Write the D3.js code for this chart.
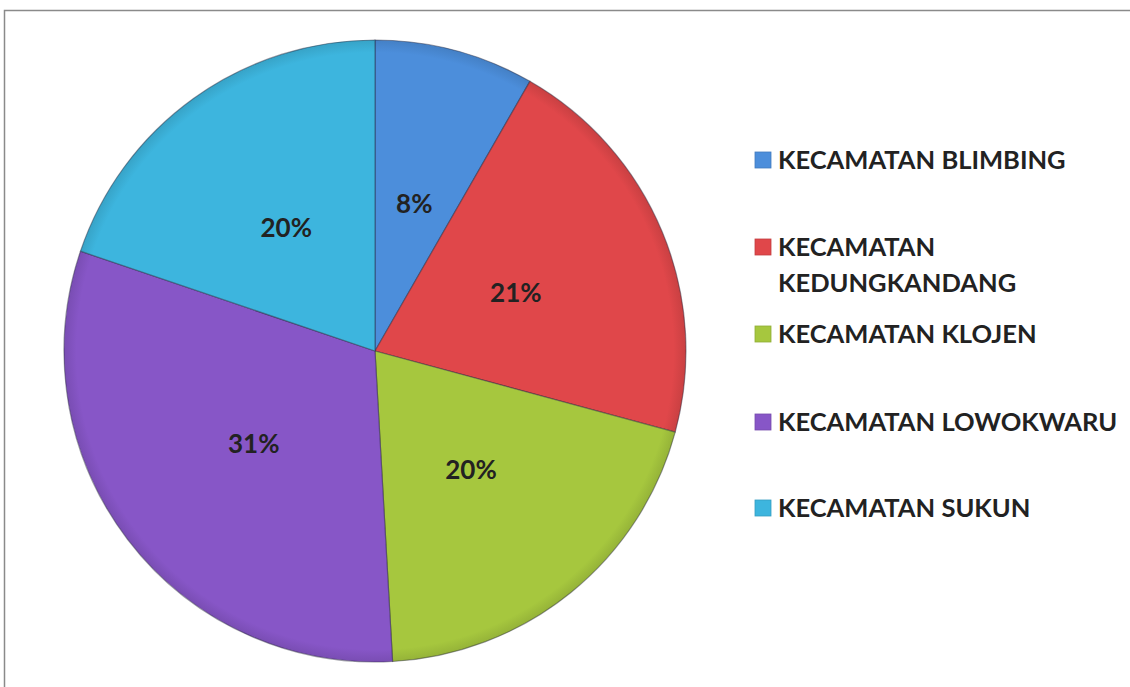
<!DOCTYPE html>
<html>
<head>
<meta charset="utf-8">
<script src="https://cdn.jsdelivr.net/npm/d3@7"></script>
<style>
  html, body { margin: 0; padding: 0; background: #fff; }
  svg { display: block; }
</style>
</head>
<body>
<svg id="chart" width="1130" height="687"></svg>
<script>
const categories = ["KECAMATAN BLIMBING", "KECAMATAN KEDUNGKANDANG", "KECAMATAN KLOJEN", "KECAMATAN LOWOKWARU", "KECAMATAN SUKUN"];
const values = [8.3, 20.9, 19.9, 31.1, 19.8];
const colors = ["#4c8edb", "#e0474a", "#a6c73e", "#8756c7", "#3db5de"];

const svg = d3.select("#chart");
const W = 1130, H = 687;
const font = "Lato, 'Open Sans', sans-serif";

// frame
svg.append("path").attr("d", `M4.5,${H} L4.5,10.5 L${W},10.5`)
  .attr("fill", "none").attr("stroke", "#8a8a8a").attr("stroke-width", 1.5);

const cx = 375, cy = 351, R = 311;
const total = d3.sum(values);
const pie = d3.pie().sort(null).value(d => d)(values);
const arc = d3.arc().innerRadius(0).outerRadius(R);
const labelArc = d3.arc().innerRadius(R * 0.49).outerRadius(R * 0.49);

const defs = svg.append("defs");
colors.forEach((c, i) => {
  const g = defs.append("radialGradient").attr("id", "g" + i)
    .attr("cx", 0).attr("cy", 0).attr("r", R).attr("gradientUnits", "userSpaceOnUse");
  g.append("stop").attr("offset", "0%").attr("stop-color", c);
  g.append("stop").attr("offset", "96%").attr("stop-color", c);
  g.append("stop").attr("offset", "100%").attr("stop-color", d3.color(c).darker(0.3));
});

const gPie = svg.append("g").attr("transform", `translate(${cx},${cy})`);
gPie.selectAll("path.slice").data(pie).join("path")
  .attr("class", "slice")
  .attr("d", arc)
  .attr("fill", (d, i) => `url(#g${i})`)
  .attr("stroke", "rgba(40,40,60,0.45)")
  .attr("stroke-width", 1.2);

gPie.selectAll("text.lbl").data(pie).join("text")
  .attr("class", "lbl")
  .attr("transform", d => `translate(${labelArc.centroid(d)})`)
  .attr("text-anchor", "middle")
  .attr("dy", "0.36em")
  .attr("font-family", font).attr("font-weight", 700).attr("font-size", 26)
  .attr("fill", "#222")
  .text(d => Math.round(d.data / total * 100) + "%");

// legend
const legX = 755, textX = 778, maxW = 370;
const baselines = [169, 256, 343, 431, 517];
const lineH = 36;
const lg = svg.append("g");
categories.forEach((name, i) => {
  const y = baselines[i];
  lg.append("rect").attr("x", legX).attr("y", y - 17).attr("width", 16).attr("height", 16)
    .attr("fill", colors[i]).attr("stroke", d3.color(colors[i]).darker(0.4)).attr("stroke-width", 0.8);
  const t = lg.append("text").attr("x", textX).attr("y", y)
    .attr("font-family", font).attr("font-weight", 700).attr("font-size", 25.5).attr("fill", "#222");
  const words = name.split(" ");
  let line = [], lineNo = 0;
  let ts = t.append("tspan").attr("x", textX).attr("y", y);
  words.forEach(w => {
    line.push(w);
    ts.text(line.join(" "));
    if (ts.node().getComputedTextLength() > maxW && line.length > 1) {
      line.pop();
      ts.text(line.join(" "));
      line = [w];
      lineNo++;
      ts = t.append("tspan").attr("x", textX).attr("y", y + lineNo * lineH).text(w);
    }
  });
});
</script>
</body>
</html>
